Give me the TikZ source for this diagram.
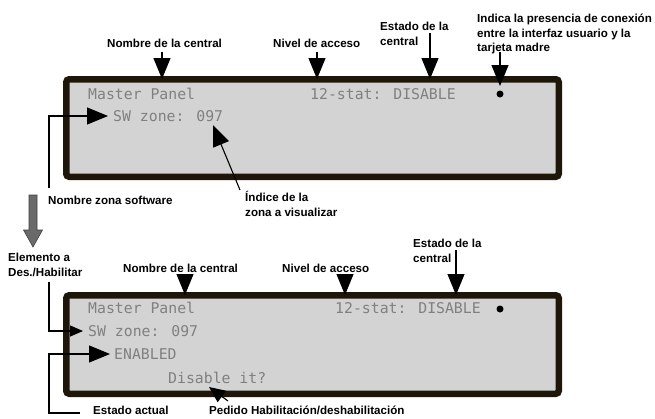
\documentclass[tikz,border=0pt]{standalone}
\usepackage{fontspec}
\setmainfont{Liberation Sans}
\newfontfamily\lcdfont{DejaVu Sans Mono}
\usetikzlibrary{arrows.meta}
\definecolor{lcdbg}{HTML}{D3D3D3}
\definecolor{lcdframe}{HTML}{1E1609}
\definecolor{lcdtxt}{HTML}{808080}
\definecolor{bigarrow}{HTML}{6A6A6A}
\begin{document}
\begin{tikzpicture}[x=1pt,y=-1pt,
 lbl/.style={font=\bfseries\fontsize{11.6}{14.5}\selectfont, inner sep=0pt, align=left, text=black},
 lcd/.style={font=\lcdfont\fontsize{14.8}{15}\selectfont, text=lcdtxt, inner sep=0pt, anchor=base west},
 panel/.style={draw=lcdframe, fill=lcdbg, line width=6.5pt, rounded corners=3pt, minimum width=492.5pt, minimum height=97.5pt, inner sep=0pt},
 arr/.style={line width=1.1pt, -{Triangle[length=21pt,width=17pt]}},
 arrm/.style={line width=1.1pt, -{Triangle[length=16pt,width=14pt]}},
 arrs/.style={line width=1.1pt, -{Triangle[length=13pt,width=11pt]}},
 ]
\useasboundingbox[fill=white] (0,0) rectangle (655,418);

% ---------- top panel ----------
\node[panel] (p1) at (312.5,128) {};
\node[lcd] (m1) at (88,99) {Master Panel};
\node[lcd] (s1) at (310,99) {12-stat: DISABLE};
\node[lcd] (z1) at (113,121) {SW zone: 097};
\fill[black] (500,94) circle (3.5pt);
\coordinate (dot1) at (500,86);

\node[lbl, anchor=west] (n1) at (107,43) {Nombre de la central};
\node[lbl, anchor=west] (v1) at (273,43) {Nivel de acceso};
\node[lbl, anchor=north west] (e1) at (380,22) {Estado de la\\central};
\node[lbl, anchor=north west] (i1) at (477,14) {Indica la presencia de conexión\\entre la interfaz usuario y la\\tarjeta madre};
\node[lbl, anchor=west] (zs) at (48,200) {Nombre zona software};
\node[lbl, anchor=north west] (ix) at (245,191.5) {Índice de la\\zona a visualizar};

\coordinate (a1s) at (162,52);  \coordinate (a1t) at (162,79);
\coordinate (a2s) at (317,52);  \coordinate (a2t) at (317,79);
\coordinate (a3s) at (430,33);  \coordinate (a3t) at (430,79);
\coordinate (a4s) at (500,52);
\coordinate (a5s) at (49,188);  \coordinate (a5t) at (108,116);
\coordinate (a6s) at (240,190); \coordinate (a6t) at (213,125);

\draw[arr] (a1s) -- (a1t);
\draw[arr] (a2s) -- (a2t);
\draw[arr] (a3s) -- (a3t);
\draw[arr] (a4s) -- (dot1);
\draw[arr] (a5s) |- (a5t);
\draw[arr] (a6s) -- (a6t);

% big gray arrow
\filldraw[fill=bigarrow, draw=black!75, line width=0.6pt]
  (29,195) -- (37,195) -- (37,230) -- (42.5,230) -- (33,247) -- (23.5,230) -- (29,230) -- cycle;

% ---------- bottom panel ----------
\node[panel, minimum height=98.5pt] (p2) at (312.5,344.5) {};
\node[lcd] (m2) at (88,313) {Master Panel};
\node[lcd] (s2) at (335,313) {12-stat: DISABLE};
\node[lcd] (z2) at (88,336) {SW zone: 097};
\node[lcd] (en) at (114,359) {ENABLED};
\node[lcd] (di) at (168,383) {Disable it?};
\fill[black] (500,309) circle (3.5pt);

\node[lbl, anchor=north west] (el) at (8,253) {Elemento a\\Des./Habilitar};
\node[lbl, anchor=west] (n2) at (123,268) {Nombre de la central};
\node[lbl, anchor=west] (v2) at (282,268) {Nivel de acceso};
\node[lbl, anchor=north west] (e2) at (413,239) {Estado de la\\central};
\node[lbl, anchor=west] (ea) at (93,410.5) {Estado actual};
\node[lbl, anchor=west] (pe) at (209,410.5) {Pedido Habilitación/deshabilitación};

\coordinate (b1s) at (185,277); \coordinate (b1t) at (185,295);
\coordinate (b2s) at (345,277); \coordinate (b2t) at (345,295);
\coordinate (b3s) at (456,250); \coordinate (b3t) at (456,295);
\coordinate (b5s) at (49,282);  \coordinate (b5t) at (83,331);
\coordinate (b6s) at (80,413);  \coordinate (b6c) at (49,413); \coordinate (b6t) at (110,354);
\coordinate (b7s) at (228,401); \coordinate (b7t) at (209,387);

\draw[arr] (b1s) -- (b1t);
\draw[arr] (b2s) -- (b2t);
\draw[arr] (b3s) -- (b3t);
\draw[arrs] (b5s) |- (b5t);
\draw[arr] (b6s) -- (b6c) |- (b6t);
\draw[arrm] (b7s) -- (b7t);
\end{tikzpicture}
\end{document}
